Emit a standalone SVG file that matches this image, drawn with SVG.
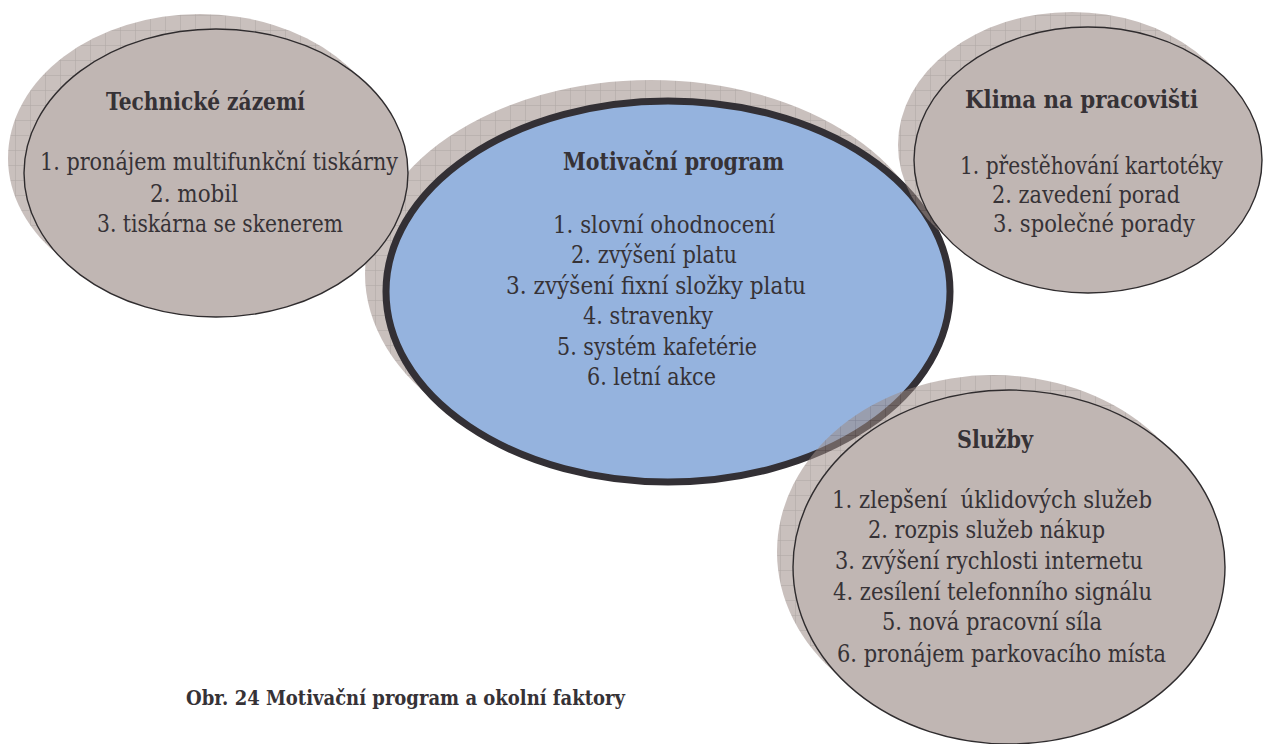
<svg xmlns="http://www.w3.org/2000/svg" width="1263" height="744" viewBox="0 0 1263 744">
<defs>
<pattern id="grid" patternUnits="userSpaceOnUse" width="15" height="15">
<rect width="15" height="15" fill="#9d8c87"/>
<path d="M0 0.3H15M0.3 0V15" stroke="#6f605c" stroke-width="0.7" fill="none"/>
</pattern>
<style>
.shadow{fill:url(#grid);opacity:0.55}
.front{fill:#c0b6b3;stroke:#2f2c2e;stroke-width:1.4}
.main{fill:#95b3de;stroke:#333035;stroke-width:7}
text{fill:#363236;font-size:24px;font-family:"DejaVu Serif",serif}
.t{font-weight:bold}
.cap{font-weight:bold;font-size:21px}
</style>
</defs>
<rect width="1263" height="744" fill="#ffffff"/>
<g id="connectors"></g>
<g id="motivacni-program">
<ellipse class="shadow" cx="651" cy="274" rx="286" ry="194"/>
<ellipse class="main" cx="668" cy="291.5" rx="282" ry="190.5"/>
<text class="t" x="563" y="170" textLength="221" lengthAdjust="spacingAndGlyphs">Motivační program</text>
<text x="553" y="233" textLength="222" lengthAdjust="spacingAndGlyphs">1. slovní ohodnocení</text>
<text x="571" y="263.4" textLength="166" lengthAdjust="spacingAndGlyphs">2. zvýšení platu</text>
<text x="506" y="293.8" textLength="300" lengthAdjust="spacingAndGlyphs">3. zvýšení fixní složky platu</text>
<text x="583" y="324.2" textLength="130" lengthAdjust="spacingAndGlyphs">4. stravenky</text>
<text x="557" y="354.6" textLength="200" lengthAdjust="spacingAndGlyphs">5. systém kafetérie</text>
<text x="587" y="385" textLength="129" lengthAdjust="spacingAndGlyphs">6. letní akce</text>
</g>
<g id="technicke-zazemi">
<ellipse class="shadow" cx="200" cy="158" rx="192" ry="144"/>
<ellipse class="front" cx="216" cy="173" rx="192" ry="144"/>
<text class="t" x="106" y="110" textLength="199" lengthAdjust="spacingAndGlyphs">Technické zázemí</text>
<text x="40" y="170" textLength="358" lengthAdjust="spacingAndGlyphs">1. pronájem multifunkční tiskárny</text>
<text x="150" y="202" textLength="88" lengthAdjust="spacingAndGlyphs">2. mobil</text>
<text x="97" y="232" textLength="246" lengthAdjust="spacingAndGlyphs">3. tiskárna se skenerem</text>
</g>
<g id="klima-na-pracovisti">
<ellipse class="shadow" cx="1072" cy="145" rx="174" ry="133"/>
<ellipse class="front" cx="1088" cy="160" rx="174" ry="133"/>
<text class="t" x="965" y="108" textLength="233" lengthAdjust="spacingAndGlyphs">Klima na pracovišti</text>
<text x="960" y="174" textLength="263" lengthAdjust="spacingAndGlyphs">1. přestěhování kartotéky</text>
<text x="992" y="203" textLength="188" lengthAdjust="spacingAndGlyphs">2. zavedení porad</text>
<text x="993" y="232" textLength="202" lengthAdjust="spacingAndGlyphs">3. společné porady</text>
</g>
<g id="sluzby">
<ellipse class="shadow" cx="993" cy="552" rx="216" ry="177"/>
<ellipse class="front" cx="1009" cy="567" rx="216" ry="177"/>
<text class="t" x="957" y="448" textLength="76" lengthAdjust="spacingAndGlyphs">Služby</text>
<text x="832" y="508" xml:space="preserve" textLength="320" lengthAdjust="spacingAndGlyphs">1. zlepšení  úklidových služeb</text>
<text x="868" y="538" textLength="237" lengthAdjust="spacingAndGlyphs">2. rozpis služeb nákup</text>
<text x="835" y="569" textLength="308" lengthAdjust="spacingAndGlyphs">3. zvýšení rychlosti internetu</text>
<text x="833" y="600" textLength="319" lengthAdjust="spacingAndGlyphs">4. zesílení telefonního signálu</text>
<text x="882" y="630" textLength="220" lengthAdjust="spacingAndGlyphs">5. nová pracovní síla</text>
<text x="837" y="662" textLength="329" lengthAdjust="spacingAndGlyphs">6. pronájem parkovacího místa</text>
</g>
<text class="cap" x="186" y="705" textLength="439" lengthAdjust="spacingAndGlyphs">Obr. 24 Motivační program a okolní faktory</text>
</svg>
